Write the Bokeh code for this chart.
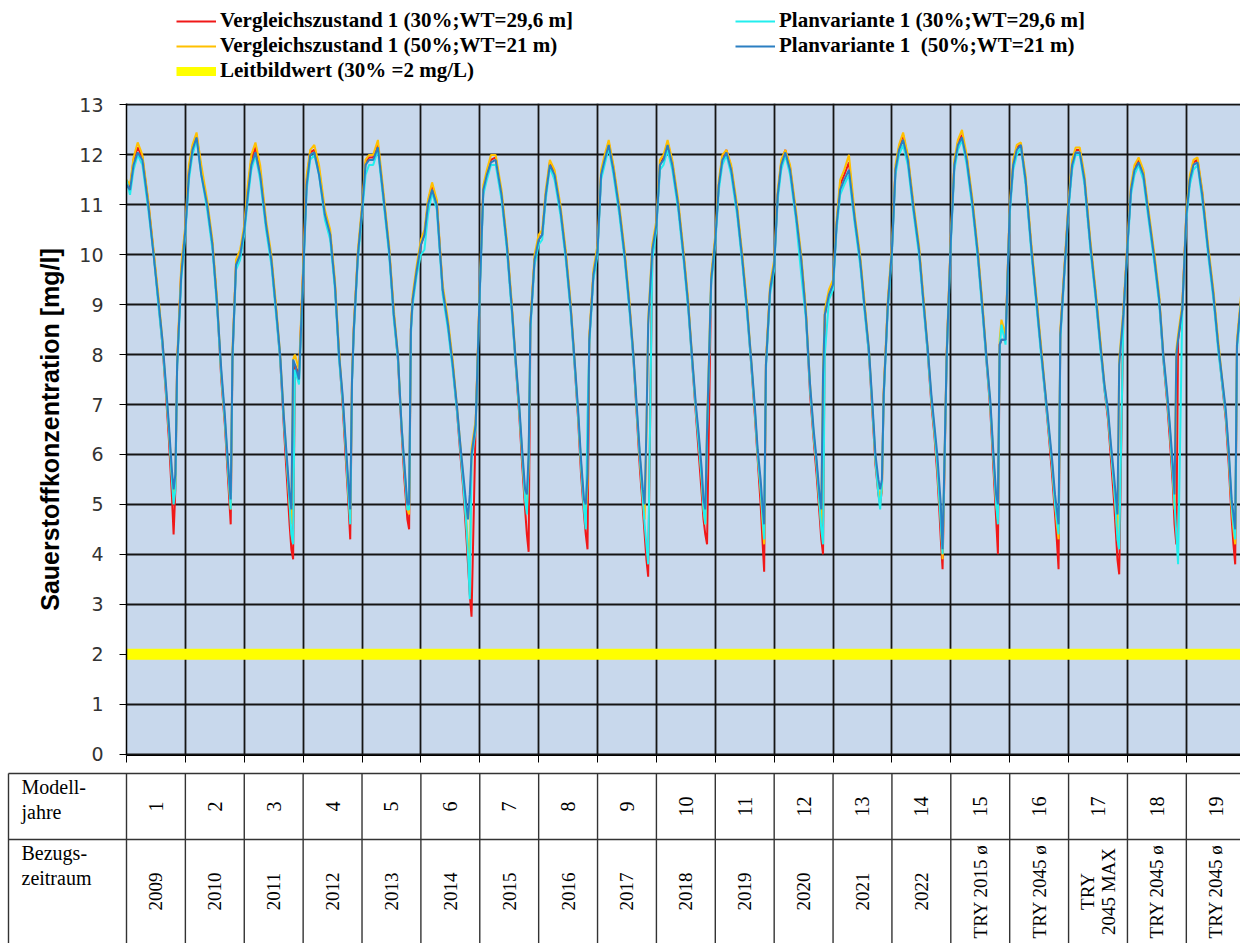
import numpy as np
from bokeh.plotting import figure
from bokeh.models import Range1d, FixedTicker, Legend, LegendItem
from bokeh.embed import file_html
from bokeh.resources import INLINE
from bokeh.core.properties import value

# ---------------- data ----------------
modelljahre = ["1", "2", "3", "4", "5", "6", "7", "8", "9", "10",
               "11", "12", "13", "14", "15", "16", "17", "18", "19"]
bezugszeitraum = ["2009", "2010", "2011", "2012", "2013", "2014", "2015", "2016",
                  "2017", "2018", "2019", "2020", "2021", "2022",
                  "TRY 2015 ø", "TRY 2045 ø", "TRY\n2045 MAX", "TRY 2045 ø", "TRY 2045 ø"]

# position within each model year (fraction of year) at which values were read
phase = [0.00, 0.06, 0.12, 0.19, 0.27, 0.37, 0.46, 0.54, 0.61, 0.67, 0.72, 0.77, 0.80, 0.83, 0.86, 0.93]

vergleich_30 = [
    [11.45, 11.35, 11.9, 12.15, 11.95, 11.05, 10.05, 9.1, 8.2, 7.2, 6.3, 5.2, 4.4, 5.3, 7.8, 9.7],
    [10.5, 11.7, 12.15, 12.4, 11.7, 11.0, 10.2, 9.0, 7.5, 6.6, 5.6, 4.6, 7.9, 8.9, 9.8, 10.0],
    [10.5, 11.3, 11.9, 12.15, 11.7, 10.6, 9.9, 8.9, 7.9, 6.6, 5.6, 4.6, 4.1, 3.9, 7.8, 7.6],
    [9.7, 11.5, 12.05, 12.1, 11.7, 10.8, 10.4, 9.4, 8.0, 7.0, 6.0, 5.0, 4.3, 7.5, 8.5, 10.0],
    [10.9, 11.85, 11.95, 11.95, 12.2, 11.1, 10.1, 8.8, 7.9, 6.5, 5.5, 4.7, 4.5, 8.5, 9.1, 9.7],
    [10.2, 10.4, 11.05, 11.4, 11.05, 9.3, 8.6, 7.8, 6.9, 6.0, 5.3, 4.4, 3.8, 3.2, 2.75, 6.6],
    [9.3, 11.3, 11.6, 11.9, 11.95, 11.2, 10.2, 9.0, 7.8, 6.8, 5.8, 4.9, 4.4, 4.05, 8.6, 9.9],
    [10.3, 10.4, 11.2, 11.85, 11.65, 10.9, 10.0, 9.0, 7.8, 6.7, 5.6, 4.8, 4.4, 4.1, 8.3, 9.6],
    [10.1, 11.6, 11.95, 12.25, 11.75, 10.9, 10.0, 9.0, 7.9, 6.7, 5.7, 4.9, 4.4, 3.9, 3.55, 10.0],
    [10.6, 11.8, 11.95, 12.25, 11.85, 11.0, 10.0, 9.0, 7.8, 6.8, 6.0, 5.2, 4.7, 4.4, 4.2, 9.5],
    [10.3, 11.4, 11.95, 12.1, 11.75, 10.9, 9.9, 8.9, 7.8, 6.8, 5.9, 5.0, 4.3, 3.65, 7.8, 9.3],
    [9.8, 11.2, 11.85, 12.1, 11.75, 10.8, 9.9, 8.8, 7.2, 6.3, 5.6, 4.8, 4.3, 4.0, 8.8, 9.2],
    [9.4, 10.6, 11.4, 11.6, 11.85, 10.7, 9.9, 8.9, 8.0, 6.8, 5.8, 5.2, 5.0, 5.3, 7.2, 9.0],
    [10.1, 11.7, 12.15, 12.4, 11.95, 10.9, 10.1, 9.0, 8.0, 7.0, 6.4, 5.6, 5.0, 4.3, 3.7, 8.0],
    [10.3, 11.8, 12.25, 12.4, 11.95, 11.0, 10.0, 8.9, 7.8, 6.9, 5.8, 4.7, 4.0, 8.2, 8.3, 8.3],
    [10.9, 11.8, 12.15, 12.2, 11.5, 10.1, 9.0, 8.0, 7.1, 6.3, 5.6, 4.8, 4.3, 3.7, 8.4, 9.7],
    [11.0, 11.8, 12.1, 12.1, 11.5, 10.2, 9.2, 8.2, 7.3, 6.7, 5.9, 5.1, 4.5, 3.9, 3.6, 8.8],
    [10.2, 11.3, 11.75, 11.9, 11.65, 10.7, 9.9, 9.1, 7.9, 7.1, 6.3, 5.4, 4.6, 4.2, 8.3, 8.9],
    [10.8, 11.5, 11.85, 11.9, 11.25, 10.1, 9.2, 8.2, 7.4, 6.7, 5.8, 4.7, 4.2, 3.8, 8.2, 9.1],
]

vergleich_50 = [
    [11.5, 11.4, 11.95, 12.25, 12.0, 11.1, 10.1, 9.2, 8.3, 7.3, 6.5, 5.6, 5.1, 5.4, 7.9, 9.8],
    [10.6, 11.8, 12.2, 12.45, 11.8, 11.1, 10.3, 9.1, 7.6, 6.7, 5.8, 4.9, 8.1, 9.0, 9.9, 10.1],
    [10.6, 11.4, 12.0, 12.25, 11.8, 10.7, 10.0, 9.0, 8.0, 6.8, 5.9, 5.0, 4.6, 7.9, 8.0, 7.7],
    [9.8, 11.6, 12.1, 12.2, 11.8, 10.9, 10.5, 9.5, 8.1, 7.1, 6.2, 5.2, 4.7, 7.6, 8.6, 10.1],
    [11.0, 11.9, 12.0, 12.0, 12.3, 11.2, 10.2, 8.9, 8.0, 6.6, 5.7, 4.9, 4.8, 8.6, 9.2, 9.8],
    [10.3, 10.5, 11.1, 11.45, 11.1, 9.4, 8.7, 7.9, 7.0, 6.2, 5.5, 4.7, 4.2, 3.8, 6.1, 6.7],
    [9.4, 11.4, 11.7, 12.0, 12.0, 11.3, 10.3, 9.1, 7.9, 6.9, 6.0, 5.1, 4.9, 5.8, 8.7, 10.0],
    [10.4, 10.5, 11.3, 11.9, 11.7, 11.0, 10.1, 9.1, 7.9, 6.8, 5.8, 5.0, 4.8, 5.4, 8.4, 9.7],
    [10.2, 11.7, 12.0, 12.3, 11.8, 11.0, 10.1, 9.1, 8.0, 6.8, 5.9, 5.1, 4.7, 6.4, 8.7, 10.2],
    [10.7, 11.9, 12.0, 12.3, 11.9, 11.1, 10.1, 9.1, 7.9, 6.9, 6.3, 5.5, 4.9, 4.6, 6.6, 9.6],
    [10.4, 11.5, 12.0, 12.1, 11.8, 11.0, 10.0, 9.0, 7.9, 6.9, 6.0, 5.3, 4.7, 4.2, 7.9, 9.4],
    [9.9, 11.3, 11.9, 12.1, 11.8, 10.9, 10.0, 8.9, 7.4, 6.4, 5.8, 5.0, 4.6, 7.7, 8.9, 9.3],
    [9.5, 10.7, 11.5, 11.7, 12.0, 10.8, 10.0, 9.0, 8.1, 6.9, 5.9, 5.3, 5.1, 5.3, 7.3, 9.1],
    [10.2, 11.8, 12.2, 12.45, 12.0, 11.0, 10.2, 9.1, 8.1, 7.1, 6.5, 5.8, 5.2, 4.7, 3.9, 8.1],
    [10.4, 11.9, 12.3, 12.5, 12.0, 11.1, 10.1, 9.0, 7.9, 7.0, 6.0, 5.0, 4.7, 8.3, 8.7, 8.4],
    [11.0, 11.9, 12.2, 12.25, 11.6, 10.2, 9.1, 8.1, 7.2, 6.4, 5.8, 5.0, 4.6, 4.3, 8.5, 9.8],
    [11.1, 11.9, 12.15, 12.15, 11.6, 10.3, 9.3, 8.3, 7.4, 6.8, 6.1, 5.4, 4.9, 4.4, 7.9, 8.9],
    [10.3, 11.4, 11.8, 11.95, 11.7, 10.8, 10.0, 9.2, 8.0, 7.2, 6.5, 5.6, 4.9, 8.1, 8.4, 9.0],
    [10.9, 11.6, 11.9, 11.95, 11.3, 10.2, 9.3, 8.3, 7.5, 6.8, 6.0, 4.9, 4.5, 4.2, 8.3, 9.2],
]

plan_30 = [
    [11.5, 11.2, 11.7, 12.0, 11.8, 10.9, 10.0, 9.0, 8.2, 7.3, 6.5, 5.5, 5.0, 5.3, 7.7, 9.5],
    [10.4, 11.5, 12.0, 12.3, 11.6, 10.9, 10.1, 8.9, 7.6, 6.7, 5.8, 4.9, 7.9, 8.8, 9.7, 9.9],
    [10.4, 11.1, 11.7, 12.0, 11.5, 10.5, 9.8, 8.8, 7.9, 6.7, 5.9, 5.0, 4.4, 4.2, 7.7, 7.4],
    [9.5, 11.3, 11.9, 12.0, 11.6, 10.7, 10.3, 9.3, 7.9, 7.1, 6.2, 5.2, 4.6, 7.4, 8.4, 9.9],
    [10.8, 11.6, 11.8, 11.8, 12.1, 11.0, 10.0, 8.7, 7.9, 6.6, 5.7, 4.9, 4.9, 8.4, 9.0, 9.6],
    [10.0, 10.1, 10.8, 11.25, 10.9, 9.2, 8.5, 7.7, 6.9, 6.1, 5.4, 4.6, 4.0, 3.1, 5.9, 6.5],
    [9.2, 11.2, 11.5, 11.8, 11.8, 11.1, 10.1, 8.9, 7.8, 6.9, 6.0, 5.1, 4.8, 5.9, 8.5, 9.8],
    [10.2, 10.3, 11.1, 11.75, 11.5, 10.8, 9.9, 8.9, 7.8, 6.8, 5.8, 4.9, 4.5, 6.8, 8.2, 9.5],
    [10.0, 11.5, 11.8, 12.15, 11.6, 10.8, 9.9, 8.9, 7.9, 6.8, 5.9, 5.1, 4.6, 4.2, 3.8, 9.9],
    [10.5, 11.7, 11.8, 12.1, 11.7, 10.9, 9.9, 8.9, 7.8, 6.9, 6.2, 5.5, 4.9, 4.6, 6.4, 9.4],
    [10.2, 11.3, 11.8, 12.0, 11.6, 10.8, 9.8, 8.8, 7.8, 6.9, 6.0, 5.3, 4.8, 4.3, 7.7, 9.2],
    [9.7, 11.1, 11.7, 12.0, 11.6, 10.7, 9.6, 8.7, 7.3, 6.4, 5.8, 5.0, 4.5, 4.2, 8.0, 9.1],
    [9.3, 10.5, 11.2, 11.4, 11.6, 10.6, 9.8, 8.8, 8.0, 6.9, 5.9, 5.2, 4.9, 5.4, 7.1, 8.9],
    [10.0, 11.6, 12.0, 12.2, 11.8, 10.8, 10.0, 8.9, 8.0, 7.1, 6.5, 5.8, 5.2, 4.6, 4.0, 7.9],
    [10.2, 11.7, 12.1, 12.3, 11.8, 10.9, 9.9, 8.8, 7.8, 7.0, 6.0, 5.0, 4.6, 8.1, 8.6, 8.2],
    [10.8, 11.7, 12.0, 12.15, 11.4, 10.0, 8.9, 7.9, 7.1, 6.4, 5.8, 5.0, 4.7, 4.4, 8.3, 9.6],
    [10.9, 11.7, 12.0, 12.0, 11.4, 10.1, 9.1, 8.1, 7.3, 6.8, 6.1, 5.4, 4.9, 4.3, 4.1, 8.7],
    [10.1, 11.2, 11.6, 11.8, 11.5, 10.6, 9.8, 9.0, 7.9, 7.2, 6.5, 5.6, 5.0, 4.4, 3.8, 8.8],
    [10.7, 11.4, 11.7, 11.8, 11.1, 10.0, 9.1, 8.1, 7.4, 6.8, 6.0, 5.0, 4.6, 4.3, 8.1, 9.0],
]

plan_50 = [
    [11.4, 11.3, 11.8, 12.05, 11.9, 11.0, 10.0, 9.1, 8.3, 7.4, 6.6, 5.7, 5.3, 5.6, 7.8, 9.6],
    [10.5, 11.6, 12.1, 12.35, 11.6, 11.0, 10.2, 9.0, 7.7, 6.8, 5.9, 5.1, 8.0, 8.9, 9.8, 10.0],
    [10.5, 11.2, 11.8, 12.05, 11.6, 10.6, 9.9, 8.9, 8.0, 6.8, 6.0, 5.2, 4.9, 7.9, 7.8, 7.5],
    [9.6, 11.4, 12.0, 12.05, 11.6, 10.8, 10.4, 9.4, 8.0, 7.2, 6.3, 5.4, 4.9, 7.5, 8.5, 10.0],
    [10.9, 11.8, 11.9, 11.9, 12.15, 11.1, 10.1, 8.8, 8.0, 6.6, 5.8, 5.0, 5.0, 8.5, 9.1, 9.7],
    [10.2, 10.4, 11.0, 11.3, 11.0, 9.3, 8.6, 7.8, 7.0, 6.2, 5.6, 5.0, 4.7, 5.2, 6.0, 6.6],
    [9.3, 11.3, 11.6, 11.85, 11.9, 11.2, 10.2, 9.0, 7.9, 7.0, 6.1, 5.3, 5.2, 6.0, 8.6, 9.9],
    [10.3, 10.4, 11.2, 11.8, 11.6, 10.9, 10.0, 9.0, 7.9, 6.9, 5.9, 5.1, 5.0, 5.6, 8.3, 9.6],
    [10.1, 11.6, 11.9, 12.2, 11.7, 10.9, 10.0, 9.0, 8.0, 6.9, 6.0, 5.3, 5.0, 6.5, 8.6, 10.1],
    [10.6, 11.8, 11.9, 12.2, 11.8, 11.0, 10.0, 9.0, 7.9, 7.0, 6.4, 5.7, 5.1, 4.9, 6.5, 9.5],
    [10.3, 11.4, 11.9, 12.05, 11.7, 10.9, 9.9, 8.9, 7.9, 7.0, 6.1, 5.5, 5.0, 4.6, 7.8, 9.3],
    [9.8, 11.2, 11.8, 12.05, 11.7, 10.8, 9.9, 8.8, 7.4, 6.5, 5.9, 5.2, 4.9, 7.6, 8.8, 9.2],
    [9.4, 10.6, 11.3, 11.5, 11.7, 10.7, 9.9, 8.9, 8.1, 7.0, 6.0, 5.5, 5.3, 5.5, 7.2, 9.0],
    [10.1, 11.7, 12.1, 12.3, 11.9, 10.9, 10.1, 9.0, 8.1, 7.2, 6.6, 6.0, 5.5, 5.0, 4.1, 8.0],
    [10.3, 11.8, 12.2, 12.35, 11.9, 11.0, 10.0, 8.9, 7.9, 7.1, 6.1, 5.2, 5.0, 8.2, 8.3, 8.3],
    [10.9, 11.8, 12.1, 12.2, 11.5, 10.1, 9.0, 8.0, 7.2, 6.5, 5.9, 5.2, 4.9, 4.6, 8.4, 9.7],
    [11.0, 11.8, 12.05, 12.05, 11.5, 10.2, 9.2, 8.2, 7.4, 6.9, 6.2, 5.6, 5.2, 4.8, 7.8, 8.8],
    [10.2, 11.3, 11.7, 11.85, 11.6, 10.7, 9.9, 9.1, 8.0, 7.3, 6.6, 5.8, 5.2, 8.0, 8.3, 8.9],
    [10.8, 11.5, 11.8, 11.85, 11.2, 10.1, 9.2, 8.2, 7.5, 6.9, 6.1, 5.1, 4.8, 4.5, 8.2, 9.1],
]

leitbildwert = 2.0
y_ticks = list(range(0, 14))

labels = {
    "v30": "Vergleichszustand 1 (30%;WT=29,6 m]",
    "v50": "Vergleichszustand 1 (50%;WT=21 m)",
    "lb": "Leitbildwert (30% =2 mg/L)",
    "p30": "Planvariante 1 (30%;WT=29,6 m]",
    "p50": "Planvariante 1  (50%;WT=21 m)",
}
colors = {"v30": "#F01818", "v50": "#FFC000", "lb": "#FFFF00", "p30": "#22EEEE", "p50": "#2B7FC2"}

# ---------------- layout constants ----------------
W = 1240
H_LEG = 95
H_CHART = 675
H_TAB = 173
LEFT = 126
FRAME_TOP = 8
FRAME_H = 652
n_years = len(modelljahre)
x_end = 18.92
ppy = (W - LEFT) / x_end


def flatten(series):
    xs, ys = [], []
    for i, yr in enumerate(series):
        for ph, v in zip(phase, yr):
            xs.append(i + ph)
            ys.append(v)
    return xs, ys


# ---------------- legend strip ----------------
lf = figure(width=W, height=H_LEG, x_range=Range1d(0, 1), y_range=Range1d(0, 1),
            toolbar_location=None, output_backend="svg", min_border=0,
            x_axis_type=None, y_axis_type=None, background_fill_color="white",
            border_fill_color="white")
lf.outline_line_color = None
lf.grid.visible = False
nan = float("nan")
proxy = {}
for key in ["v30", "v50", "lb", "p30", "p50"]:
    # legend proxies: one NaN point, nothing is drawn in the strip itself
    proxy[key] = lf.line(x=[nan], y=[nan], line_color=colors[key],
                         line_width=(9 if key == "lb" else 2))

leg_left = Legend(items=[LegendItem(label=labels[k], renderers=[proxy[k]]) for k in ["v30", "v50", "lb"]],
                  location=(176, 12))
leg_right = Legend(items=[LegendItem(label=labels[k], renderers=[proxy[k]]) for k in ["p30", "p50"]],
                   location=(735, 37))
for lg in (leg_left, leg_right):
    lg.orientation = "vertical"
    lg.padding = 0
    lg.margin = 0
    lg.spacing = 0
    lg.label_height = 20
    lg.glyph_height = 20
    lg.glyph_width = 40
    lg.label_standoff = 4
    lg.border_line_color = None
    lg.background_fill_alpha = 0
    lg.label_text_font = "Liberation Serif"
    lg.label_text_font_style = "bold"
    lg.label_text_font_size = "21px"
    lg.label_text_color = "black"
    lf.add_layout(lg, "center")

# ---------------- chart ----------------
p = figure(width=W, height=H_CHART, x_range=Range1d(0, x_end), y_range=Range1d(-0.03, 13.03),
           toolbar_location=None, output_backend="svg",
           min_border_left=LEFT, min_border_right=0, min_border_top=FRAME_TOP,
           min_border_bottom=H_CHART - FRAME_TOP - FRAME_H,
           background_fill_color="#C8D8EC", border_fill_color="white")
p.outline_line_color = None

p.xaxis.ticker = FixedTicker(ticks=list(range(0, n_years + 1)))
p.xaxis.major_label_overrides = {i: "" for i in range(0, n_years + 1)}
p.xaxis.major_tick_out = 7
p.xaxis.major_tick_in = 0
p.xaxis.minor_tick_line_color = None
p.xaxis.major_label_standoff = 0
p.xaxis.axis_line_color = "black"
p.xaxis.major_tick_line_color = "black"

p.yaxis.ticker = FixedTicker(ticks=y_ticks)
p.yaxis.major_tick_out = 7
p.yaxis.major_tick_in = 0
p.yaxis.minor_tick_line_color = None
p.yaxis.axis_line_color = "black"
p.yaxis.axis_line_width = 1.5
p.yaxis.major_tick_line_color = "black"
p.yaxis.major_label_text_font = "DejaVu Sans"
p.yaxis.major_label_text_font_size = "19px"
p.yaxis.major_label_text_color = "#333333"
p.yaxis.major_label_standoff = 16
p.yaxis.axis_label = "Sauerstoffkonzentration [mg/l]"
p.yaxis.axis_label_text_font = "Liberation Sans"
p.yaxis.axis_label_text_font_style = "bold"
p.yaxis.axis_label_text_font_size = "25px"
p.yaxis.axis_label_text_color = "black"
p.yaxis.axis_label_standoff = 12

p.xgrid.ticker = FixedTicker(ticks=list(range(0, n_years + 1)))
p.ygrid.ticker = FixedTicker(ticks=y_ticks)
for g in (p.xgrid, p.ygrid):
    g.grid_line_color = "#141414"
    g.grid_line_width = 1.8

p.line([0, n_years], [leitbildwert, leitbildwert], line_color=colors["lb"], line_width=11)

for key, series in (("v30", vergleich_30), ("v50", vergleich_50), ("p30", plan_30), ("p50", plan_50)):
    xs, ys = flatten(series)
    p.line(xs, ys, line_color=colors[key], line_width=2)

# ---------------- table ----------------
x_tab_left = -LEFT / ppy
t = figure(width=W, height=H_TAB, x_range=Range1d(x_tab_left, x_end), y_range=Range1d(H_TAB, 0),
           toolbar_location=None, output_backend="svg", min_border=0,
           x_axis_type=None, y_axis_type=None, background_fill_color="white",
           border_fill_color="white")
t.outline_line_color = None
t.grid.visible = False

x_border = x_tab_left + 8 / ppy
y_top, y_mid = 3, 69
t.segment(x0=[x_border, x_border], y0=[y_top, y_mid], x1=[x_end, x_end], y1=[y_top, y_mid],
          line_color="#333333", line_width=1.4)
vx = [x_border] + list(range(0, n_years + 1))
t.segment(x0=vx, y0=[y_top] * len(vx), x1=vx, y1=[H_TAB] * len(vx),
          line_color="#333333", line_width=1.4)

t.text(x=[x_border + 13 / ppy] * 2, y=[5, 71], text=["Modell-\njahre", "Bezugs-\nzeitraum"],
       text_align="left", text_baseline="top", text_font=value("Liberation Serif"),
       text_font_size="20px", text_line_height=1.15, text_color="black")

centers = [i + 0.5 for i in range(n_years)]
t.text(x=centers, y=[36] * n_years, text=modelljahre, angle=np.pi / 2,
       text_align="center", text_baseline="middle", text_font=value("Liberation Serif"),
       text_font_size="20px", text_color="black")
t.text(x=centers, y=[121] * n_years, text=bezugszeitraum, angle=np.pi / 2,
       text_align="center", text_baseline="middle", text_font=value("Liberation Serif"),
       text_font_size="19px", text_line_height=1.0, text_color="black")

open("out.html", "w").write(file_html([lf, p, t], INLINE))
